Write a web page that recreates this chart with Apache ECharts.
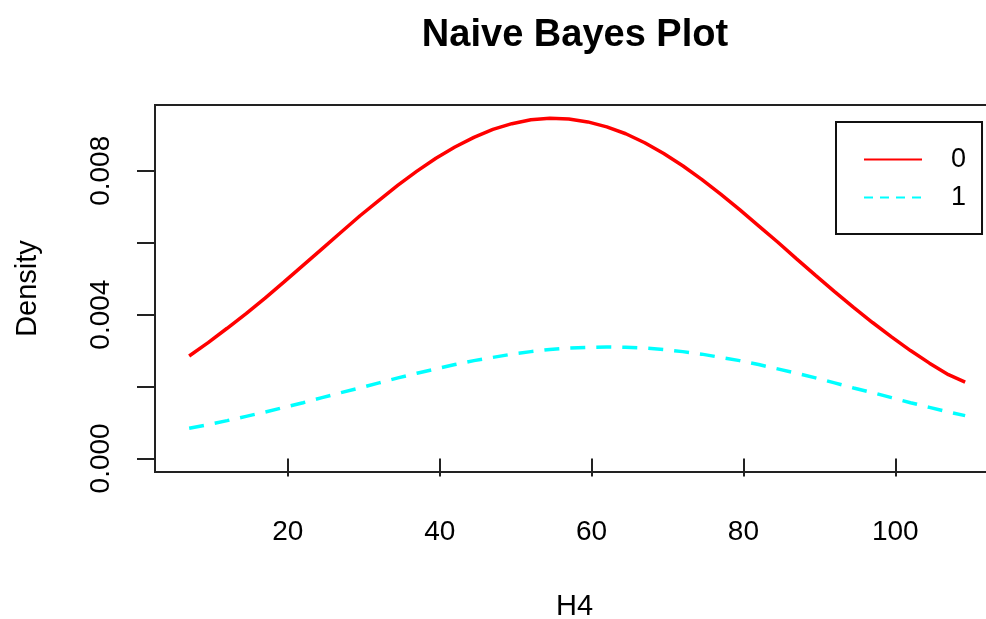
<!DOCTYPE html>
<html>
<head>
<meta charset="utf-8">
<script src="https://cdn.jsdelivr.net/npm/echarts@6/dist/echarts.min.js"></script>
<style>
html,body{margin:0;padding:0;background:#fff;}
#chart{width:986px;height:619px;}
</style>
</head>
<body>
<div id="chart"></div>
<script>
// H4 positions (x) at which densities were read
const xValues = [7, 9.5, 12, 14.5, 17, 19.5, 22, 24.5, 27, 29.5, 32, 34.5, 37, 39.5, 42, 44.5, 47, 49.5, 52, 54.5, 57, 59.5, 62, 64.5, 67, 69.5, 72, 74.5, 77, 79.5, 82, 84.5, 87, 89.5, 92, 94.5, 97, 99.5, 102, 104.5, 107, 109.2];
// class "0" density (red, solid)
const density0 = [0.00285, 0.00322, 0.00362, 0.00403, 0.00446, 0.00491, 0.00537, 0.00583, 0.00629, 0.00675, 0.00718, 0.00760, 0.00799, 0.00835, 0.00866, 0.00893, 0.00915, 0.00931, 0.00942, 0.00946, 0.00944, 0.00936, 0.00922, 0.00903, 0.00878, 0.00848, 0.00814, 0.00776, 0.00735, 0.00692, 0.00647, 0.00602, 0.00555, 0.00509, 0.00464, 0.00420, 0.00378, 0.00338, 0.00300, 0.00265, 0.00233, 0.00212];
// class "1" density (cyan, dashed)
const density1 = [0.00084, 0.00094, 0.00105, 0.00117, 0.00129, 0.00142, 0.00155, 0.00169, 0.00183, 0.00196, 0.00210, 0.00224, 0.00237, 0.00249, 0.00261, 0.00272, 0.00281, 0.00290, 0.00297, 0.00303, 0.00307, 0.00309, 0.00310, 0.00309, 0.00307, 0.00303, 0.00297, 0.00290, 0.00281, 0.00272, 0.00261, 0.00249, 0.00237, 0.00224, 0.00210, 0.00196, 0.00183, 0.00169, 0.00155, 0.00142, 0.00129, 0.00119];
const classNames = ['0', '1'];
const xTicks = [20, 40, 60, 80, 100];
const yTicks = [0, 0.002, 0.004, 0.006, 0.008];
const yLabels = [0, 0.004, 0.008];

const FONT = 'Liberation Sans, Arial, sans-serif';
const chart = echarts.init(document.getElementById('chart'));
chart.setOption({
  backgroundColor: '#ffffff',
  animation: false,
  title: {
    text: 'Naive Bayes Plot',
    left: 570,
    textAlign: 'center',
    top: 12,
    textStyle: {fontFamily: FONT, fontWeight: 'bold', fontSize: 38, color: '#000'}
  },
  legend: {
    orient: 'vertical',
    left: 836,
    top: 122,
    padding: [24, 16, 23, 27],
    itemGap: 11,
    itemWidth: 58,
    itemHeight: 14,
    borderColor: '#111',
    borderWidth: 2,
    backgroundColor: '#fff',
    textStyle: {fontFamily: FONT, fontSize: 27, color: '#000', padding: [0, 0, 0, 24]},
    itemStyle: {opacity: 0},
    lineStyle: {width: 2},
    data: [
      {name: classNames[0], lineStyle: {width: 2, type: 'solid'}},
      {name: classNames[1], lineStyle: {width: 2, type: [9, 7]}}
    ]
  },
  grid: {
    left: 155,
    top: 105,
    width: 839,
    height: 367,
    outerBoundsMode: 'none',
    show: true,
    borderColor: '#222',
    borderWidth: 2,
    containLabel: false
  },
  xAxis: {
    type: 'value',
    min: 2.5,
    max: 113.0,
    name: 'H4',
    nameLocation: 'middle',
    nameGap: 120,
    nameTextStyle: {fontFamily: FONT, fontSize: 29, color: '#000'},
    axisLine: {show: false},
    splitLine: {show: false},
    axisTick: {show: true, customValues: xTicks, length: 18, lineStyle: {color: '#222', width: 2}},
    axisLabel: {customValues: xTicks, margin: 46, fontFamily: FONT, fontSize: 28, color: '#000'}
  },
  yAxis: {
    type: 'value',
    min: -0.000378,
    max: 0.00983,
    name: 'Density',
    nameLocation: 'middle',
    nameGap: 113,
    nameRotate: 90,
    nameTextStyle: {fontFamily: FONT, fontSize: 29, color: '#000'},
    axisLine: {show: false},
    splitLine: {show: false},
    axisTick: {show: true, customValues: yTicks, length: 18, lineStyle: {color: '#222', width: 2}},
    axisLabel: {customValues: yLabels, rotate: 90, margin: 40, fontFamily: FONT, fontSize: 28, color: '#000',
      formatter: v => Number(v).toFixed(3)}
  },
  series: [
    {
      name: classNames[0],
      type: 'line',
      data: xValues.map((x, i) => [x, density0[i]]),
      showSymbol: false,
      symbol: 'none',
      smooth: false,
      lineStyle: {color: '#ff0000', width: 3.5},
      itemStyle: {color: '#ff0000'}
    },
    {
      name: classNames[1],
      type: 'line',
      data: xValues.map((x, i) => [x, density1[i]]),
      showSymbol: false,
      symbol: 'none',
      smooth: false,
      lineStyle: {color: '#00ffff', width: 3.5, type: [15, 11]},
      itemStyle: {color: '#00ffff'}
    }
  ]
});
</script>
</body>
</html>
